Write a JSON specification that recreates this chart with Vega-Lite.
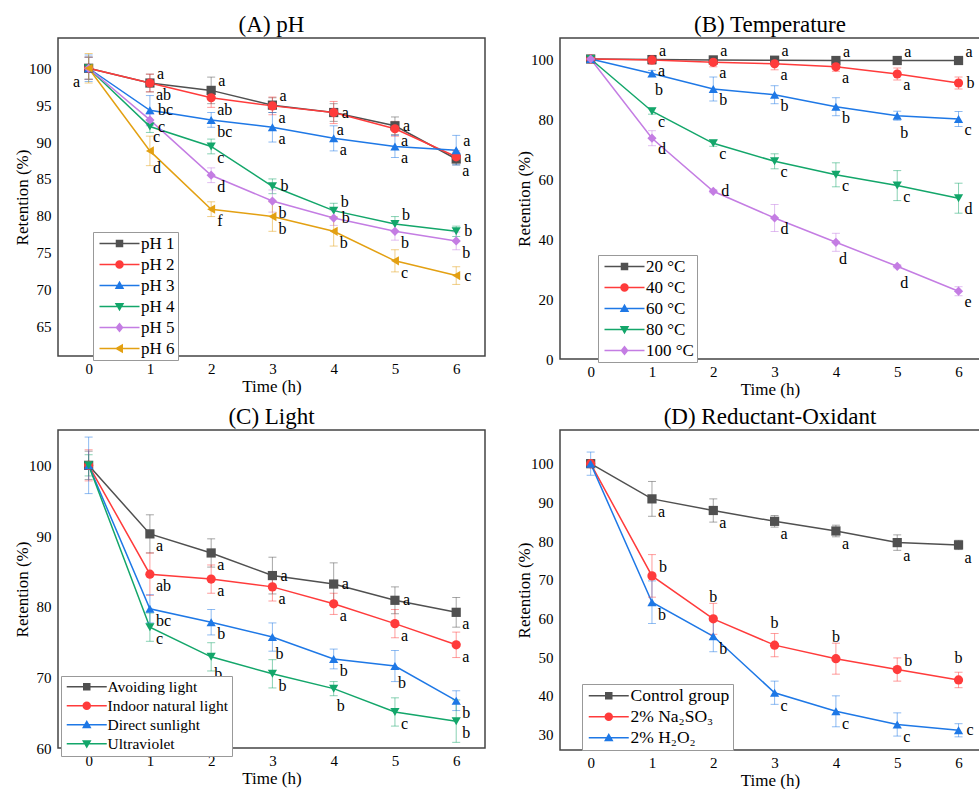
{
"$schema": "https://vega.github.io/schema/vega-lite/v6.json",
"padding": {"left": 12, "top": 13, "right": 0, "bottom": 0},
"background": "white",
"config": {
 "view": {"stroke": "#444", "strokeWidth": 1.5},
 "font": "Liberation Serif",
 "title": {"font": "Liberation Serif", "fontSize": 23, "fontWeight": "normal", "color": "black", "offset": 1},
 "style": {
  "guide-label": {"font": "Liberation Serif", "fontSize": 15, "fill": "black"},
  "guide-title": {"font": "Liberation Serif", "fontSize": 17, "fontWeight": "normal", "fill": "black"}
 },
 "axis": {"labelFont": "Liberation Serif", "labelFontSize": 15, "labelColor": "black", "titleFont": "Liberation Serif", "titleFontSize": 17, "titleFontWeight": "normal", "titleColor": "black", "ticks": false, "grid": false, "domain": false, "labelPadding": 7},
 "axisY": {"titlePadding": -3},
 "axisX": {"titlePadding": 2, "labelPadding": 5},
 "legend": {"labelFont": "Liberation Serif", "labelFontSize": 17, "labelColor": "black", "strokeColor": "#999", "fillColor": "white", "padding": 3},
 "point": {"filled": true, "size": 85, "opacity": 1},
 "text": {"font": "Liberation Serif", "fontSize": 16}
},
"datasets": {"d": [
{"p":"A","s":"pH 1","t":0,"v":100,"e":1.5,"l":"a","q":"l"},
{"p":"A","s":"pH 1","t":1,"v":98,"e":1.2,"l":"a","q":"ur"},
{"p":"A","s":"pH 1","t":2,"v":97,"e":1.8,"l":"a","q":"ur"},
{"p":"A","s":"pH 1","t":3,"v":95,"e":1.0,"l":"a","q":"ur"},
{"p":"A","s":"pH 1","t":4,"v":94,"e":1.2,"l":"a","q":"r"},
{"p":"A","s":"pH 1","t":5,"v":92.2,"e":1.2,"l":"a","q":"r"},
{"p":"A","s":"pH 1","t":6,"v":87.7,"e":0.8,"l":"a","q":"dr"},
{"p":"A","s":"pH 2","t":0,"v":100,"e":1.5},
{"p":"A","s":"pH 2","t":1,"v":98,"e":1.2,"l":"ab","q":"dr"},
{"p":"A","s":"pH 2","t":2,"v":96,"e":1.3,"l":"ab","q":"dr"},
{"p":"A","s":"pH 2","t":3,"v":94.9,"e":1.2,"l":"a","q":"dr"},
{"p":"A","s":"pH 2","t":4,"v":94,"e":1.5,"l":"a","q":"d"},
{"p":"A","s":"pH 2","t":5,"v":91.8,"e":1.0,"l":"a","q":"dr"},
{"p":"A","s":"pH 2","t":6,"v":88,"e":0.8,"l":"a","q":"r"},
{"p":"A","s":"pH 3","t":0,"v":100,"e":1.8},
{"p":"A","s":"pH 3","t":1,"v":94.3,"e":2.0,"l":"bc","q":"r"},
{"p":"A","s":"pH 3","t":2,"v":93,"e":1.0,"l":"bc","q":"dr"},
{"p":"A","s":"pH 3","t":3,"v":92,"e":2.0,"l":"a","q":"dr"},
{"p":"A","s":"pH 3","t":4,"v":90.5,"e":1.7,"l":"a","q":"dr"},
{"p":"A","s":"pH 3","t":5,"v":89.4,"e":1.5,"l":"a","q":"dr"},
{"p":"A","s":"pH 3","t":6,"v":88.9,"e":2.0,"l":"a","q":"ur"},
{"p":"A","s":"pH 4","t":0,"v":100,"e":1.5},
{"p":"A","s":"pH 4","t":1,"v":92.1,"e":0.8,"l":"c","q":"r"},
{"p":"A","s":"pH 4","t":2,"v":89.4,"e":1.0,"l":"c","q":"dr"},
{"p":"A","s":"pH 4","t":3,"v":84,"e":1.0,"l":"b","q":"r"},
{"p":"A","s":"pH 4","t":4,"v":80.7,"e":1.0,"l":"b","q":"ur"},
{"p":"A","s":"pH 4","t":5,"v":78.9,"e":1.0,"l":"b","q":"ur"},
{"p":"A","s":"pH 4","t":6,"v":77.9,"e":0.7,"l":"b","q":"r"},
{"p":"A","s":"pH 5","t":0,"v":100,"e":1.5},
{"p":"A","s":"pH 5","t":1,"v":93,"e":0.8,"l":"c","q":"d"},
{"p":"A","s":"pH 5","t":2,"v":85.5,"e":1.0,"l":"d","q":"dr"},
{"p":"A","s":"pH 5","t":3,"v":82,"e":1.5,"l":"b","q":"dr"},
{"p":"A","s":"pH 5","t":4,"v":79.7,"e":1.0,"l":"b","q":"r"},
{"p":"A","s":"pH 5","t":5,"v":77.9,"e":1.2,"l":"b","q":"dr"},
{"p":"A","s":"pH 5","t":6,"v":76.6,"e":1.2,"l":"b","q":"dr"},
{"p":"A","s":"pH 6","t":0,"v":100,"e":2.0},
{"p":"A","s":"pH 6","t":1,"v":88.8,"e":2.0,"l":"d","q":"d"},
{"p":"A","s":"pH 6","t":2,"v":80.9,"e":1.0,"l":"f","q":"dr"},
{"p":"A","s":"pH 6","t":3,"v":79.9,"e":2.0,"l":"b","q":"dr"},
{"p":"A","s":"pH 6","t":4,"v":77.9,"e":2.0,"l":"b","q":"dr"},
{"p":"A","s":"pH 6","t":5,"v":73.9,"e":1.5,"l":"c","q":"dr"},
{"p":"A","s":"pH 6","t":6,"v":71.9,"e":1.2,"l":"c","q":"r"},
{"p":"B","s":"20 °C","t":0,"v":100,"e":0.3},
{"p":"B","s":"20 °C","t":1,"v":99.8,"e":0.3,"l":"a","q":"ur"},
{"p":"B","s":"20 °C","t":2,"v":99.7,"e":0.3,"l":"a","q":"ur"},
{"p":"B","s":"20 °C","t":3,"v":99.6,"e":0.3,"l":"a","q":"ur"},
{"p":"B","s":"20 °C","t":4,"v":99.5,"e":0.3,"l":"a","q":"ur"},
{"p":"B","s":"20 °C","t":5,"v":99.5,"e":0.3,"l":"a","q":"ur"},
{"p":"B","s":"20 °C","t":6,"v":99.5,"e":0.3,"l":"a","q":"ur"},
{"p":"B","s":"40 °C","t":0,"v":100,"e":0.5},
{"p":"B","s":"40 °C","t":1,"v":99.7,"e":1.5,"l":"a","q":"dr"},
{"p":"B","s":"40 °C","t":2,"v":98.9,"e":1.5,"l":"a","q":"dr"},
{"p":"B","s":"40 °C","t":3,"v":98.4,"e":2.0,"l":"a","q":"dr"},
{"p":"B","s":"40 °C","t":4,"v":97.4,"e":1.5,"l":"a","q":"dr"},
{"p":"B","s":"40 °C","t":5,"v":95,"e":2.0,"l":"a","q":"dr"},
{"p":"B","s":"40 °C","t":6,"v":92,"e":2.0,"l":"b","q":"r"},
{"p":"B","s":"60 °C","t":0,"v":100,"e":0.5},
{"p":"B","s":"60 °C","t":1,"v":95.2,"e":1.0,"l":"b","q":"d"},
{"p":"B","s":"60 °C","t":2,"v":90,"e":4.0,"l":"b","q":"dr"},
{"p":"B","s":"60 °C","t":3,"v":88.1,"e":3.0,"l":"b","q":"dr"},
{"p":"B","s":"60 °C","t":4,"v":84.1,"e":3.0,"l":"b","q":"dr"},
{"p":"B","s":"60 °C","t":5,"v":81.1,"e":1.5,"l":"b","q":"d"},
{"p":"B","s":"60 °C","t":6,"v":80,"e":2.5,"l":"c","q":"dr"},
{"p":"B","s":"80 °C","t":0,"v":100,"e":0.5},
{"p":"B","s":"80 °C","t":1,"v":82.6,"e":1.0,"l":"c","q":"dr"},
{"p":"B","s":"80 °C","t":2,"v":71.9,"e":1.0,"l":"c","q":"dr"},
{"p":"B","s":"80 °C","t":3,"v":65.9,"e":2.5,"l":"c","q":"dr"},
{"p":"B","s":"80 °C","t":4,"v":61.4,"e":4.0,"l":"c","q":"dr"},
{"p":"B","s":"80 °C","t":5,"v":57.8,"e":5.0,"l":"c","q":"dr"},
{"p":"B","s":"80 °C","t":6,"v":53.6,"e":5.0,"l":"d","q":"dr"},
{"p":"B","s":"100 °C","t":0,"v":100,"e":0.5},
{"p":"B","s":"100 °C","t":1,"v":73.6,"e":2.5,"l":"d","q":"dr"},
{"p":"B","s":"100 °C","t":2,"v":55.9,"e":0.5,"l":"d","q":"r"},
{"p":"B","s":"100 °C","t":3,"v":47,"e":4.5,"l":"d","q":"dr"},
{"p":"B","s":"100 °C","t":4,"v":38.9,"e":3.0,"l":"d","q":"d"},
{"p":"B","s":"100 °C","t":5,"v":30.9,"e":0.5,"l":"d","q":"d"},
{"p":"B","s":"100 °C","t":6,"v":22.6,"e":1.5,"l":"e","q":"dr"},
{"p":"C","s":"Avoiding light","t":0,"v":100,"e":2.0},
{"p":"C","s":"Avoiding light","t":1,"v":90.3,"e":2.7,"l":"a","q":"dr"},
{"p":"C","s":"Avoiding light","t":2,"v":87.6,"e":2.0,"l":"a","q":"dr"},
{"p":"C","s":"Avoiding light","t":3,"v":84.4,"e":2.6,"l":"a","q":"r"},
{"p":"C","s":"Avoiding light","t":4,"v":83.2,"e":3.0,"l":"a","q":"r"},
{"p":"C","s":"Avoiding light","t":5,"v":80.9,"e":1.9,"l":"a","q":"r"},
{"p":"C","s":"Avoiding light","t":6,"v":79.2,"e":2.1,"l":"a","q":"dr"},
{"p":"C","s":"Indoor natural light","t":0,"v":100,"e":2.2},
{"p":"C","s":"Indoor natural light","t":1,"v":84.6,"e":3.0,"l":"ab","q":"dr"},
{"p":"C","s":"Indoor natural light","t":2,"v":83.9,"e":2.0,"l":"a","q":"dr"},
{"p":"C","s":"Indoor natural light","t":3,"v":82.8,"e":2.0,"l":"a","q":"dr"},
{"p":"C","s":"Indoor natural light","t":4,"v":80.4,"e":1.5,"l":"a","q":"dr"},
{"p":"C","s":"Indoor natural light","t":5,"v":77.6,"e":2.0,"l":"a","q":"dr"},
{"p":"C","s":"Indoor natural light","t":6,"v":74.6,"e":1.8,"l":"a","q":"dr"},
{"p":"C","s":"Direct sunlight","t":0,"v":100,"e":4.0},
{"p":"C","s":"Direct sunlight","t":1,"v":79.7,"e":2.0,"l":"bc","q":"dr"},
{"p":"C","s":"Direct sunlight","t":2,"v":77.8,"e":1.8,"l":"b","q":"dr"},
{"p":"C","s":"Direct sunlight","t":3,"v":75.7,"e":2.0,"l":"b","q":"d"},
{"p":"C","s":"Direct sunlight","t":4,"v":72.6,"e":1.4,"l":"b","q":"dr"},
{"p":"C","s":"Direct sunlight","t":5,"v":71.6,"e":2.2,"l":"b","q":"d"},
{"p":"C","s":"Direct sunlight","t":6,"v":66.7,"e":1.4,"l":"b","q":"dr"},
{"p":"C","s":"Ultraviolet","t":0,"v":100,"e":1.5},
{"p":"C","s":"Ultraviolet","t":1,"v":77.1,"e":2.0,"l":"c","q":"dr"},
{"p":"C","s":"Ultraviolet","t":2,"v":72.9,"e":2.0,"l":"b","q":"d"},
{"p":"C","s":"Ultraviolet","t":3,"v":70.5,"e":2.0,"l":"b","q":"dr"},
{"p":"C","s":"Ultraviolet","t":4,"v":68.4,"e":1.0,"l":"b","q":"d"},
{"p":"C","s":"Ultraviolet","t":5,"v":65.1,"e":2.0,"l":"c","q":"dr"},
{"p":"C","s":"Ultraviolet","t":6,"v":63.8,"e":3.0,"l":"b","q":"dr"},
{"p":"D","s":"Control group","t":0,"v":100,"e":1.0},
{"p":"D","s":"Control group","t":1,"v":90.9,"e":4.5,"l":"a","q":"dr"},
{"p":"D","s":"Control group","t":2,"v":87.9,"e":3.0,"l":"a","q":"dr"},
{"p":"D","s":"Control group","t":3,"v":85.1,"e":1.5,"l":"a","q":"dr"},
{"p":"D","s":"Control group","t":4,"v":82.6,"e":1.5,"l":"a","q":"dr"},
{"p":"D","s":"Control group","t":5,"v":79.6,"e":2.0,"l":"a","q":"dr"},
{"p":"D","s":"Control group","t":6,"v":79.0,"e":1.2,"l":"a","q":"dr"},
{"p":"D","s":"2% Na₂SO₃","t":0,"v":100,"e":1.0},
{"p":"D","s":"2% Na₂SO₃","t":1,"v":71.0,"e":5.5,"l":"b","q":"ur"},
{"p":"D","s":"2% Na₂SO₃","t":2,"v":59.9,"e":4.0,"l":"b","q":"u"},
{"p":"D","s":"2% Na₂SO₃","t":3,"v":53.1,"e":3.0,"l":"b","q":"u"},
{"p":"D","s":"2% Na₂SO₃","t":4,"v":49.6,"e":4.0,"l":"b","q":"u"},
{"p":"D","s":"2% Na₂SO₃","t":5,"v":46.8,"e":3.0,"l":"b","q":"ur"},
{"p":"D","s":"2% Na₂SO₃","t":6,"v":44.1,"e":2.0,"l":"b","q":"u"},
{"p":"D","s":"2% H₂O₂","t":0,"v":100,"e":3.0},
{"p":"D","s":"2% H₂O₂","t":1,"v":64.2,"e":5.5,"l":"b","q":"dr"},
{"p":"D","s":"2% H₂O₂","t":2,"v":55.4,"e":4.0,"l":"b","q":"dr"},
{"p":"D","s":"2% H₂O₂","t":3,"v":40.8,"e":3.0,"l":"c","q":"dr"},
{"p":"D","s":"2% H₂O₂","t":4,"v":36.0,"e":4.0,"l":"c","q":"dr"},
{"p":"D","s":"2% H₂O₂","t":5,"v":32.6,"e":3.0,"l":"c","q":"dr"},
{"p":"D","s":"2% H₂O₂","t":6,"v":31.1,"e":1.7,"l":"c","q":"r"}
]},
"columns": 2,
"spacing": {"row": 71, "column": 75},
"bounds": "flush",
"resolve": {"scale": {"x": "independent", "y": "independent", "color": "independent"}, "legend": {"color": "independent"}},
"concat": [
{
 "width": 427, "height": 318,
 "title": "(A) pH",
 "data": {"name": "d"},
 "transform": [{"filter": "datum.p == 'A'"}],
 "encoding": {
  "x": {"field": "t", "type": "quantitative", "scale": {"domain": [-0.5, 6.47], "nice": false, "zero": false}, "axis": {"values": [0,1,2,3,4,5,6], "title": "Time (h)"}},
  "y": {"field": "v", "type": "quantitative", "scale": {"domain": [61, 104.1], "nice": false, "zero": false}, "axis": {"values": [65,70,75,80,85,90,95,100], "title": "Retention (%)"}},
  "color": {"field": "s", "type": "nominal", "scale": {"domain": ["pH 1","pH 2","pH 3","pH 4","pH 5","pH 6"], "range": ["#505050","#ff3b3b","#1e78e6","#13a66a","#c47de3","#e3a012"]},
   "legend": {"orient": "none", "legendX": 35, "legendY": 194, "title": null, "labelFontSize": 17, "symbolSize": 100, "symbolOffset": 15, "labelOffset": 13, "rowPadding": 3,
    "encode": {"symbols": {"update": {
     "shape": {"signal": "['M-4,-0.15H4V0.15H-4ZM-0.75,-0.75H0.75V0.75H-0.75Z','M-4,-0.15H4V0.15H-4ZM-0.85,0A0.85,0.85,0,1,1,0.85,0A0.85,0.85,0,1,1,-0.85,0Z','M-4,-0.15H4V0.15H-4ZM0,-0.95L0.95,0.7H-0.95Z','M-4,-0.15H4V0.15H-4ZM0,0.95L-0.95,-0.7H0.95Z','M-4,-0.15H4V0.15H-4ZM0,-1L0.8,0L0,1L-0.8,0Z','M-4,-0.15H4V0.15H-4ZM-0.95,0L0.7,-0.95V0.95Z'][datum.index]"},
     "fill": {"signal": "['#505050','#ff3b3b','#1e78e6','#13a66a','#c47de3','#e3a012'][datum.index]"},
     "strokeWidth": {"value": 0}, "opacity": {"value": 1}}}}}}
 },
 "layer": [
  {"mark": {"type": "line", "strokeWidth": 1.5}},
  {"mark": {"type": "errorbar", "ticks": {"size": 8}, "opacity": 0.5}, "encoding": {"yError": {"field": "e"}}},
  {"transform": [{"filter": "datum.s == 'pH 1'"}], "mark": {"type": "point", "shape": "square"}},
  {"transform": [{"filter": "datum.s == 'pH 2'"}], "mark": {"type": "point", "shape": "circle"}},
  {"transform": [{"filter": "datum.s == 'pH 3'"}], "mark": {"type": "point", "shape": "triangle-up"}},
  {"transform": [{"filter": "datum.s == 'pH 4'"}], "mark": {"type": "point", "shape": "triangle-down"}},
  {"transform": [{"filter": "datum.s == 'pH 5'"}], "mark": {"type": "point", "shape": "diamond"}},
  {"transform": [{"filter": "datum.s == 'pH 6'"}], "mark": {"type": "point", "shape": "triangle-left"}},
  {"transform": [{"filter": "datum.q == 'r'"}], "mark": {"type": "text", "align": "left", "baseline": "middle", "dx": 8, "dy": 0}, "encoding": {"text": {"field": "l"}, "color": {"value": "black"}}},
  {"transform": [{"filter": "datum.q == 'ur'"}], "mark": {"type": "text", "align": "left", "baseline": "middle", "dx": 7, "dy": -9}, "encoding": {"text": {"field": "l"}, "color": {"value": "black"}}},
  {"transform": [{"filter": "datum.q == 'dr'"}], "mark": {"type": "text", "align": "left", "baseline": "middle", "dx": 6, "dy": 12}, "encoding": {"text": {"field": "l"}, "color": {"value": "black"}}},
  {"transform": [{"filter": "datum.q == 'd'"}], "mark": {"type": "text", "align": "left", "baseline": "middle", "dx": 3, "dy": 17}, "encoding": {"text": {"field": "l"}, "color": {"value": "black"}}},
  {"transform": [{"filter": "datum.q == 'l'"}], "mark": {"type": "text", "align": "center", "baseline": "middle", "dx": -12, "dy": 14}, "encoding": {"text": {"field": "l"}, "color": {"value": "black"}}}
 ]
},
{
 "width": 420, "height": 321,
 "title": "(B) Temperature",
 "data": {"name": "d"},
 "transform": [{"filter": "datum.p == 'B'"}],
 "encoding": {
  "x": {"field": "t", "type": "quantitative", "scale": {"domain": [-0.5, 6.35], "nice": false, "zero": false}, "axis": {"values": [0,1,2,3,4,5,6], "title": "Time (h)"}},
  "y": {"field": "v", "type": "quantitative", "scale": {"domain": [0, 107], "nice": false, "zero": false}, "axis": {"values": [0,20,40,60,80,100], "title": "Retention (%)"}},
  "color": {"field": "s", "type": "nominal", "scale": {"domain": ["20 °C","40 °C","60 °C","80 °C","100 °C"], "range": ["#505050","#ff3b3b","#1e78e6","#13a66a","#c47de3"]},
   "legend": {"orient": "none", "legendX": 38, "legendY": 217, "title": null, "labelFontSize": 17, "symbolSize": 100, "symbolOffset": 15, "labelOffset": 13, "rowPadding": 3,
    "encode": {"symbols": {"update": {
     "shape": {"signal": "['M-4,-0.15H4V0.15H-4ZM-0.75,-0.75H0.75V0.75H-0.75Z','M-4,-0.15H4V0.15H-4ZM-0.85,0A0.85,0.85,0,1,1,0.85,0A0.85,0.85,0,1,1,-0.85,0Z','M-4,-0.15H4V0.15H-4ZM0,-0.95L0.95,0.7H-0.95Z','M-4,-0.15H4V0.15H-4ZM0,0.95L-0.95,-0.7H0.95Z','M-4,-0.15H4V0.15H-4ZM0,-1L0.8,0L0,1L-0.8,0Z','M-4,-0.15H4V0.15H-4ZM-0.95,0L0.7,-0.95V0.95Z'][datum.index]"},
     "fill": {"signal": "['#505050','#ff3b3b','#1e78e6','#13a66a','#c47de3','#e3a012'][datum.index]"},
     "strokeWidth": {"value": 0}, "opacity": {"value": 1}}}}}}
 },
 "layer": [
  {"mark": {"type": "line", "strokeWidth": 1.5}},
  {"mark": {"type": "errorbar", "ticks": {"size": 8}, "opacity": 0.5}, "encoding": {"yError": {"field": "e"}}},
  {"transform": [{"filter": "datum.s == '20 °C'"}], "mark": {"type": "point", "shape": "square"}},
  {"transform": [{"filter": "datum.s == '40 °C'"}], "mark": {"type": "point", "shape": "circle"}},
  {"transform": [{"filter": "datum.s == '60 °C'"}], "mark": {"type": "point", "shape": "triangle-up"}},
  {"transform": [{"filter": "datum.s == '80 °C'"}], "mark": {"type": "point", "shape": "triangle-down"}},
  {"transform": [{"filter": "datum.s == '100 °C'"}], "mark": {"type": "point", "shape": "diamond"}},
  {"transform": [{"filter": "datum.q == 'r'"}], "mark": {"type": "text", "align": "left", "baseline": "middle", "dx": 8, "dy": 0}, "encoding": {"text": {"field": "l"}, "color": {"value": "black"}}},
  {"transform": [{"filter": "datum.q == 'ur'"}], "mark": {"type": "text", "align": "left", "baseline": "middle", "dx": 7, "dy": -9}, "encoding": {"text": {"field": "l"}, "color": {"value": "black"}}},
  {"transform": [{"filter": "datum.q == 'dr'"}], "mark": {"type": "text", "align": "left", "baseline": "middle", "dx": 6, "dy": 11}, "encoding": {"text": {"field": "l"}, "color": {"value": "black"}}},
  {"transform": [{"filter": "datum.q == 'd'"}], "mark": {"type": "text", "align": "left", "baseline": "middle", "dx": 3, "dy": 17}, "encoding": {"text": {"field": "l"}, "color": {"value": "black"}}}
 ]
},
{
 "width": 427, "height": 318,
 "title": "(C) Light",
 "data": {"name": "d"},
 "transform": [{"filter": "datum.p == 'C'"}],
 "encoding": {
  "x": {"field": "t", "type": "quantitative", "scale": {"domain": [-0.5, 6.47], "nice": false, "zero": false}, "axis": {"values": [0,1,2,3,4,5,6], "title": "Time (h)"}},
  "y": {"field": "v", "type": "quantitative", "scale": {"domain": [60, 105], "nice": false, "zero": false}, "axis": {"values": [60,70,80,90,100], "title": "Retention (%)"}},
  "color": {"field": "s", "type": "nominal", "scale": {"domain": ["Avoiding light","Indoor natural light","Direct sunlight","Ultraviolet"], "range": ["#505050","#ff3b3b","#1e78e6","#13a66a"]},
   "legend": {"orient": "none", "legendX": 3, "legendY": 246, "title": null, "labelFontSize": 15.5, "symbolSize": 100, "symbolOffset": 15, "labelOffset": 13, "rowPadding": 2,
    "encode": {"symbols": {"update": {
     "shape": {"signal": "['M-4,-0.15H4V0.15H-4ZM-0.75,-0.75H0.75V0.75H-0.75Z','M-4,-0.15H4V0.15H-4ZM-0.85,0A0.85,0.85,0,1,1,0.85,0A0.85,0.85,0,1,1,-0.85,0Z','M-4,-0.15H4V0.15H-4ZM0,-0.95L0.95,0.7H-0.95Z','M-4,-0.15H4V0.15H-4ZM0,0.95L-0.95,-0.7H0.95Z','M-4,-0.15H4V0.15H-4ZM0,-1L0.8,0L0,1L-0.8,0Z','M-4,-0.15H4V0.15H-4ZM-0.95,0L0.7,-0.95V0.95Z'][datum.index]"},
     "fill": {"signal": "['#505050','#ff3b3b','#1e78e6','#13a66a','#c47de3','#e3a012'][datum.index]"},
     "strokeWidth": {"value": 0}, "opacity": {"value": 1}}}}}}
 },
 "layer": [
  {"mark": {"type": "line", "strokeWidth": 1.5}},
  {"mark": {"type": "errorbar", "ticks": {"size": 8}, "opacity": 0.5}, "encoding": {"yError": {"field": "e"}}},
  {"transform": [{"filter": "datum.s == 'Avoiding light'"}], "mark": {"type": "point", "shape": "square"}},
  {"transform": [{"filter": "datum.s == 'Indoor natural light'"}], "mark": {"type": "point", "shape": "circle"}},
  {"transform": [{"filter": "datum.s == 'Direct sunlight'"}], "mark": {"type": "point", "shape": "triangle-up"}},
  {"transform": [{"filter": "datum.s == 'Ultraviolet'"}], "mark": {"type": "point", "shape": "triangle-down"}},
  {"transform": [{"filter": "datum.q == 'r'"}], "mark": {"type": "text", "align": "left", "baseline": "middle", "dx": 8, "dy": 0}, "encoding": {"text": {"field": "l"}, "color": {"value": "black"}}},
  {"transform": [{"filter": "datum.q == 'dr'"}], "mark": {"type": "text", "align": "left", "baseline": "middle", "dx": 6, "dy": 12}, "encoding": {"text": {"field": "l"}, "color": {"value": "black"}}},
  {"transform": [{"filter": "datum.q == 'd'"}], "mark": {"type": "text", "align": "left", "baseline": "middle", "dx": 3, "dy": 17}, "encoding": {"text": {"field": "l"}, "color": {"value": "black"}}}
 ]
},
{
 "width": 420, "height": 320,
 "title": "(D) Reductant-Oxidant",
 "data": {"name": "d"},
 "transform": [{"filter": "datum.p == 'D'"}],
 "encoding": {
  "x": {"field": "t", "type": "quantitative", "scale": {"domain": [-0.5, 6.35], "nice": false, "zero": false}, "axis": {"values": [0,1,2,3,4,5,6], "title": "Time (h)"}},
  "y": {"field": "v", "type": "quantitative", "scale": {"domain": [26, 108.7], "nice": false, "zero": false}, "axis": {"values": [30,40,50,60,70,80,90,100], "title": "Retention (%)"}},
  "color": {"field": "s", "type": "nominal", "scale": {"domain": ["Control group","2% Na₂SO₃","2% H₂O₂"], "range": ["#505050","#ff3b3b","#1e78e6"]},
   "legend": {"orient": "none", "legendX": 22, "legendY": 254, "title": null, "labelFontSize": 17.5, "symbolSize": 100, "symbolOffset": 15, "labelOffset": 13, "rowPadding": 2,
    "encode": {"symbols": {"update": {
     "shape": {"signal": "['M-4,-0.15H4V0.15H-4ZM-0.75,-0.75H0.75V0.75H-0.75Z','M-4,-0.15H4V0.15H-4ZM-0.85,0A0.85,0.85,0,1,1,0.85,0A0.85,0.85,0,1,1,-0.85,0Z','M-4,-0.15H4V0.15H-4ZM0,-0.95L0.95,0.7H-0.95Z','M-4,-0.15H4V0.15H-4ZM0,0.95L-0.95,-0.7H0.95Z','M-4,-0.15H4V0.15H-4ZM0,-1L0.8,0L0,1L-0.8,0Z','M-4,-0.15H4V0.15H-4ZM-0.95,0L0.7,-0.95V0.95Z'][datum.index]"},
     "fill": {"signal": "['#505050','#ff3b3b','#1e78e6','#13a66a','#c47de3','#e3a012'][datum.index]"},
     "strokeWidth": {"value": 0}, "opacity": {"value": 1}}}}}}
 },
 "layer": [
  {"mark": {"type": "line", "strokeWidth": 1.5}},
  {"mark": {"type": "errorbar", "ticks": {"size": 8}, "opacity": 0.5}, "encoding": {"yError": {"field": "e"}}},
  {"transform": [{"filter": "datum.s == 'Control group'"}], "mark": {"type": "point", "shape": "square"}},
  {"transform": [{"filter": "datum.s == '2% Na₂SO₃'"}], "mark": {"type": "point", "shape": "circle"}},
  {"transform": [{"filter": "datum.s == '2% H₂O₂'"}], "mark": {"type": "point", "shape": "triangle-up"}},
  {"transform": [{"filter": "datum.q == 'r'"}], "mark": {"type": "text", "align": "left", "baseline": "middle", "dx": 8, "dy": 0}, "encoding": {"text": {"field": "l"}, "color": {"value": "black"}}},
  {"transform": [{"filter": "datum.q == 'ur'"}], "mark": {"type": "text", "align": "left", "baseline": "middle", "dx": 7, "dy": -9}, "encoding": {"text": {"field": "l"}, "color": {"value": "black"}}},
  {"transform": [{"filter": "datum.q == 'dr'"}], "mark": {"type": "text", "align": "left", "baseline": "middle", "dx": 6, "dy": 13}, "encoding": {"text": {"field": "l"}, "color": {"value": "black"}}},
  {"transform": [{"filter": "datum.q == 'u'"}], "mark": {"type": "text", "align": "center", "baseline": "middle", "dx": 0, "dy": -22}, "encoding": {"text": {"field": "l"}, "color": {"value": "black"}}}
 ]
}
]
}
